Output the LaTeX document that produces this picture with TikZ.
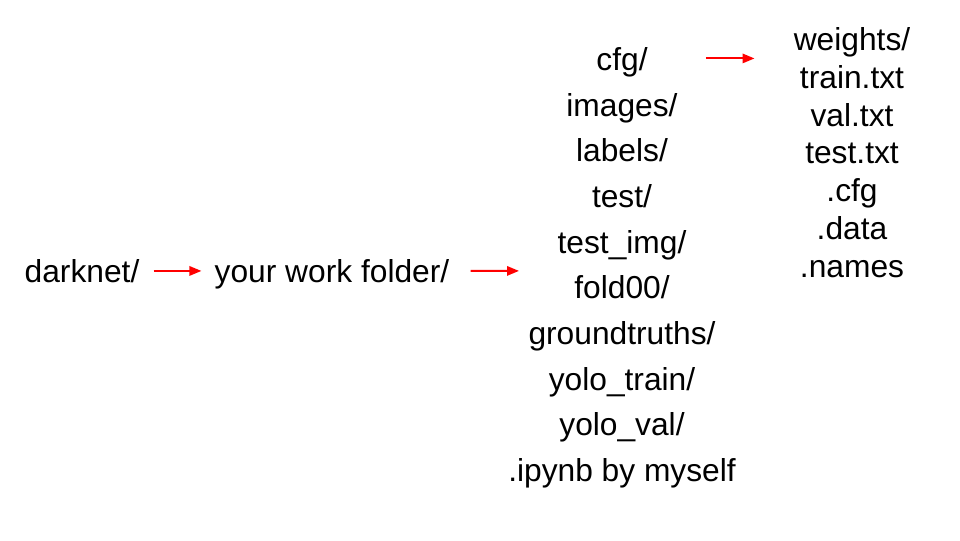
\documentclass[tikz,border=0pt]{standalone}
\usepackage{fontspec}
\setmainfont{Liberation Sans}
\usetikzlibrary{arrows.meta,calc}
\begin{document}
\begin{tikzpicture}[x=0.75pt,y=-0.75pt,
  lbl/.style={anchor=base,inner sep=0pt,text height=21.4pt,text depth=4.8pt,
    font=\fontsize{23.8pt}{28pt}\selectfont},
  arr/.style={draw=red,line width=1.5pt,-{Triangle[length=9pt,width=7pt]}}]
\useasboundingbox (0,0) rectangle (960,540);
\node[lbl] (darknet) at (82,282) {darknet/};
\node[lbl] (work) at (332,282) {your work folder/};
% middle column
\foreach \t [count=\i from 0] in {cfg/,images/,labels/,test/,test\_img/,fold00/,groundtruths/,yolo\_train/,yolo\_val/,.ipynb by myself}
  \node[lbl] (m\i) at (622,70.5+45.65*\i) {\t};
% right column
\foreach \t [count=\i from 0] in {weights/,train.txt,val.txt,test.txt,.cfg,.data,.names}
  \node[lbl] (r\i) at (852,50.5+37.8*\i) {\t};
\coordinate (colin) at (519,270.9);
\draw[arr] ($(darknet.east)+(14,0)$) -- ($(work.west)+(-13,0)$);
\draw[arr] ($(work.east)+(21,0)$) -- (colin);
\draw[arr] ($(m0.east)+(58,-1)$) -- ($(m0.east -| r0.west)+(-39,-1)$);
\end{tikzpicture}
\end{document}
